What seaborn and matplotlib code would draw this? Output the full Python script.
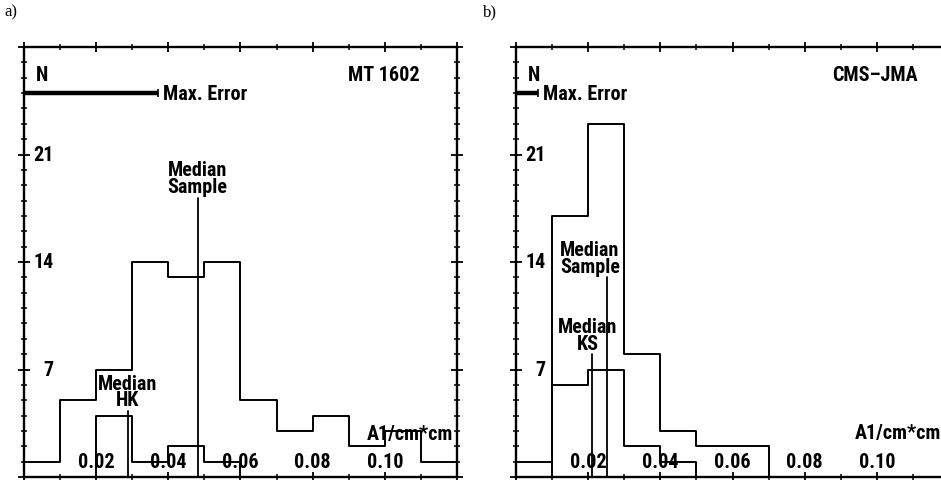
import numpy as np
import pandas as pd
import seaborn as sns
import matplotlib.pyplot as plt
from matplotlib.ticker import MultipleLocator

sns.set_theme(style="white")
plt.rcParams['font.family'] = ['Roboto Condensed', 'Roboto', 'DejaVu Sans']

# ---- data ----
bin_edges = [0.00, 0.01, 0.02, 0.03, 0.04, 0.05, 0.06, 0.07, 0.08, 0.09, 0.10, 0.11, 0.12]
mt_sample = [1, 5, 7, 14, 13, 14, 5, 3, 4, 2, 3, 1]
mt_hk = [0, 0, 4, 1, 2, 1, 0, 0, 0, 0, 0, 0]
cms_sample = [1, 17, 23, 8, 3, 2, 2, 0, 0, 0, 0, 0]
cms_ks = [0, 6, 7, 2, 1, 0, 0, 0, 0, 0, 0, 0]

mt_median_sample = 0.0481
mt_median_hk = 0.0287
cms_median_sample = 0.0251
cms_median_ks = 0.0211

mt_max_error = 0.037
cms_max_error = 0.006

x_ticks = [0.02, 0.04, 0.06, 0.08, 0.10]
x_tick_labels = ["0.02", "0.04", "0.06", "0.08", "0.10"]
y_ticks = [7, 14, 21]
y_tick_labels = ["7", "14", "21"]

centers = [(a + b) / 2 for a, b in zip(bin_edges[:-1], bin_edges[1:])]

W, H = 941, 481
fig = plt.figure(figsize=(W / 100, H / 100), dpi=100)
ax1 = fig.add_axes([24 / W, 3 / H, 433 / W, 430 / H])
ax2 = fig.add_axes([516 / W, 3 / H, 433 / W, 430 / H])

FS = 14.5
TXT = dict(fontsize=FS, fontweight='bold', color='black')


def style_axes(ax):
    ax.set_xlim(0, 0.12)
    ax.set_ylim(0, 28)
    ax.set_xlabel("")
    ax.set_ylabel("")
    ax.xaxis.set_major_locator(MultipleLocator(0.02))
    ax.xaxis.set_minor_locator(MultipleLocator(0.01))
    ax.yaxis.set_major_locator(MultipleLocator(7))
    ax.yaxis.set_minor_locator(MultipleLocator(1))
    ax.tick_params(axis='x', which='major', direction='inout', length=7, width=1.3,
                   top=True, bottom=True, labelbottom=False, color='black')
    ax.tick_params(axis='x', which='minor', direction='inout', length=4, width=1.1,
                   top=True, bottom=True, color='black')
    ax.tick_params(axis='y', which='major', direction='inout', length=9, width=1.3,
                   left=True, right=True, labelleft=False, color='black')
    ax.tick_params(axis='y', which='minor', direction='inout', length=4, width=1.1,
                   left=True, right=True, color='black')
    for s in ax.spines.values():
        s.set_color('black')
        s.set_linewidth(1.7)
    for v, lab in zip(x_ticks, x_tick_labels):
        ax.text(v, 1.0, lab, ha='center', va='center', **TXT)
    for v, lab in zip(y_ticks, y_tick_labels):
        ax.text(0.0082, v, lab, ha='right', va='center', **TXT)


def draw_hist(ax, counts):
    sns.histplot(x=centers, weights=counts, bins=bin_edges, element='step',
                 fill=False, color='black', linewidth=1.4, ax=ax)


def draw_median(ax, x, top, label, tx):
    ax.plot([x, x], [0, top], color='black', lw=1.3)
    ax.text(tx, top + 0.1, label, ha='center', va='bottom',
            linespacing=0.85, **TXT)


def draw_max_error(ax, err, tx):
    ax.plot([0, err], [25, 25], color='black', lw=3.2, solid_capstyle='butt')
    ax.plot([err], [25], marker='|', markersize=6, mew=1.2, color='black')
    ax.text(tx, 25, "Max. Error", ha='left', va='center', **TXT)


# ---- panel a ----
draw_hist(ax1, mt_sample)
draw_hist(ax1, mt_hk)
style_axes(ax1)
draw_median(ax1, mt_median_sample, 18.2, "Median\nSample", mt_median_sample)
draw_median(ax1, mt_median_hk, 4.3, "Median\nHK", mt_median_hk)
draw_max_error(ax1, mt_max_error, 0.0385)
ax1.text(0.0033, 26.2, "N", ha='left', va='center', **TXT)
ax1.text(0.1097, 26.2, "MT 1602", ha='right', va='center', **TXT)
ax1.text(0.1190, 2.8, "A1/cm*cm", ha='right', va='center', **TXT)

# ---- panel b ----
draw_hist(ax2, cms_sample)
draw_hist(ax2, cms_ks)
style_axes(ax2)
draw_median(ax2, cms_median_sample, 13.0, "Median\nSample", 0.0205)
draw_median(ax2, cms_median_ks, 8.0, "Median\nKS", 0.0199)
draw_max_error(ax2, cms_max_error, 0.0075)
ax2.text(0.0033, 26.2, "N", ha='left', va='center', **TXT)
ax2.text(0.1114, 26.2, "CMS\u2013JMA", ha='right', va='center', **TXT)
ax2.text(0.0939, 2.9, "A1/cm*cm", ha='left', va='center', **TXT)

fig.text(4 / W, 1 - 12 / H, "a)", family='Liberation Serif', fontsize=12,
         ha='left', va='center', color='black')
fig.text(483 / W, 1 - 12 / H, "b)", family='Liberation Serif', fontsize=12,
         ha='left', va='center', color='black')

fig.savefig("out.png", dpi=100)
